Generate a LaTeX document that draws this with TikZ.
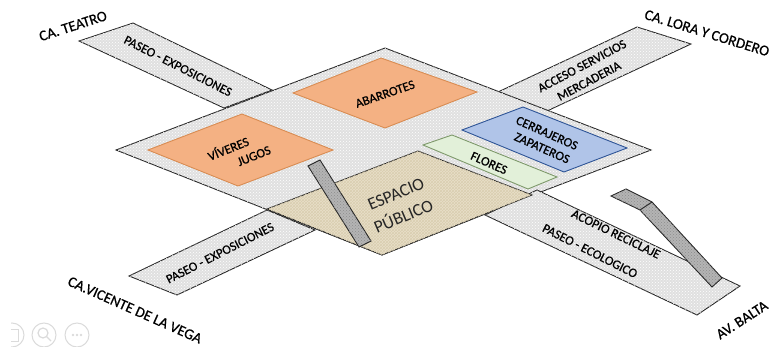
\documentclass[tikz,border=0pt]{standalone}
\usepackage{fontspec}
\setmainfont{Carlito}
\newfontfamily\semib[FakeBold=0.6]{Carlito}
\usetikzlibrary{patterns}
\definecolor{paveG}{HTML}{E0E0E0}
\definecolor{rampG}{HTML}{B4B4B4}
\definecolor{orangeF}{HTML}{F4B183}
\definecolor{orangeL}{HTML}{D98C52}
\definecolor{blueF}{HTML}{B0C4E8}
\definecolor{blueL}{HTML}{2F5597}
\definecolor{greenF}{HTML}{E2F0D9}
\definecolor{greenL}{HTML}{7F9A6C}
\definecolor{tanF}{HTML}{E8DFC9}
\definecolor{tanD}{HTML}{DACEB0}
\definecolor{inkL}{HTML}{262626}
\tikzset{
  x=1pt,y=-1pt,
  pave/.style={draw=inkL,line width=0.9pt,fill=paveG,line join=miter,
    postaction={pattern=crosshatch dots,pattern color=white}},
  ramp/.style={draw=inkL,line width=0.9pt,fill=rampG,
    postaction={pattern=crosshatch dots,pattern color=black!45}},
  shop/.style={line width=0.9pt,fill=orangeF,draw=orangeL},
  lbl/.style={font=\semib\fontsize{12.8}{13}\selectfont,text=black,inner sep=0pt,align=center},
  road/.style={font=\semib\fontsize{14.8}{16}\selectfont,text=black,inner sep=0pt},
  big/.style={font=\fontsize{17.5}{18}\selectfont,text=inkL,inner sep=0pt},
  tool/.style={draw=black!14,line width=1pt,fill=white}
}
\begin{document}
\begin{tikzpicture}
\useasboundingbox (0,0) rectangle (771,347);
% streets behind the plaza
\draw[pave] (79,41) -- (133,23) -- (272,90) -- (224,108) -- cycle;
\draw[pave] (498,92) -- (637,27) -- (691,44) -- (547,111) -- cycle;
\draw[pave] (267,210) -- (129,276) -- (177,295) -- (315,230) -- cycle;
% plaza
\draw[pave] (116,150) -- (385,48) -- (651,150) -- (538,193) -- (382,255) -- cycle;
\draw[pave] (537,190) -- (740,286) -- (697,315) -- (485,215) -- cycle;
% public space
\draw[draw=inkL,line width=0.9pt,fill=tanF,postaction={pattern=crosshatch,pattern color=tanD}]
  (267,209) -- (418,151) -- (532,195) -- (382,255) -- cycle;
% stalls
\draw[shop] (148,150) -- (242,114) -- (333,150) -- (238,186) -- cycle;
\draw[shop] (293,93) -- (381,58) -- (477,92) -- (385,128) -- cycle;
\draw[line width=0.9pt,fill=blueF,draw=blueL] (462,130) -- (523,107) -- (627,148) -- (564,172) -- cycle;
\draw[line width=0.9pt,fill=greenF,draw=greenL] (423,145) -- (452,135) -- (557,177) -- (528,189) -- cycle;
% ramps
\draw[ramp] (308,166) -- (320,160) -- (371,241) -- (359,247) -- cycle;
\draw[ramp] (611,196) -- (626,189) -- (652,202) -- (722,278) -- (712,287) -- (640,210) -- cycle;
\draw[draw=inkL,line width=0.9pt] (640,210) -- (652,202);
% road names
\node[road,rotate=18] (teatro) at (73,26) {CA. TEATRO};
\node[road,rotate=-17] (lora) at (707,33) {CA. LORA Y CORDERO};
\node[road,rotate=-24] (vicente) at (135,310) {CA.VICENTE DE LA VEGA};
\node[road,rotate=33] (balta) at (742,320) {AV. BALTA};
% paths
\node[lbl,rotate=-27] (paseoNW) at (178,66) {PASEO - EXPOSICIONES};
\node[lbl,rotate=27] (paseoSW) at (220,253) {PASEO - EXPOSICIONES};
\node[lbl,rotate=28] (acceso) at (582,66) {ACCESO SERVICIOS};
\node[lbl,rotate=28] (merca) at (589,81) {MERCADERIA};
\node[lbl,rotate=-26] (acopio) at (616,234) {ACOPIO RECICLAJE};
\node[lbl,rotate=-27] (ecolo) at (590,251) {PASEO - ECOLOGICO};
% stalls text
\node[lbl,rotate=19] (abarrotes) at (385,94) {ABARROTES};
\node[lbl,rotate=22] (viveres) at (228,148) {VÍVERES};
\node[lbl,rotate=22] (jugos) at (254,156) {JUGOS};
\node[lbl,rotate=-24] (cerra) at (547,133) {CERRAJEROS};
\node[lbl,rotate=-24] (zapa) at (542,148) {ZAPATEROS};
\node[lbl,rotate=-24] (flores) at (489,163) {FLORES};
\node[big,rotate=23] (espacio) at (396,194) {ESPACIO};
\node[big,rotate=23] (publico) at (403,215) {PÚBLICO};
% viewer toolbar
\begin{scope}
\clip (11,320) rectangle (100,347);
\draw[tool] (12,335) circle (12);
\draw[tool] (44,335) circle (12);
\draw[tool] (77,335) circle (12);
\draw[draw=black!14,line width=1pt] (10,329) rectangle (18,341);
\draw[draw=black!14,line width=1.2pt] (43,333) circle (5) (47,337) -- (51,341);
\fill[black!14] (73,335) circle (1.3) (77,335) circle (1.3) (81,335) circle (1.3);
\end{scope}
\end{tikzpicture}
\end{document}
